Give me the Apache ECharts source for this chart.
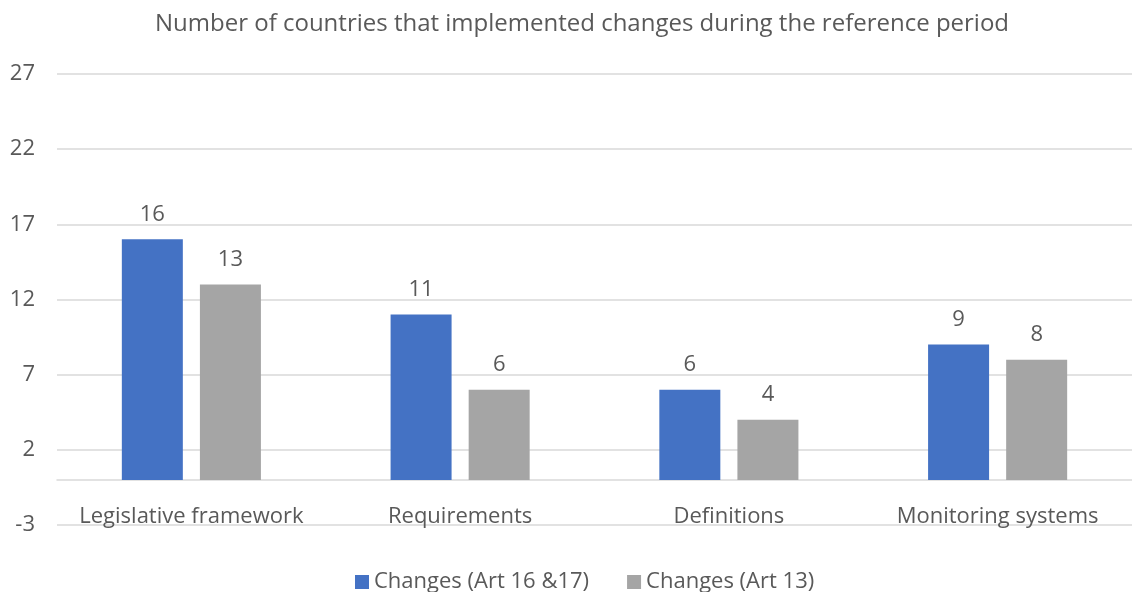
<!DOCTYPE html>
<html>
<head>
<meta charset="utf-8">
<script src="https://cdn.jsdelivr.net/npm/echarts@6/dist/echarts.min.js"></script>
<style>
  html, body { margin: 0; padding: 0; background: #fff; overflow: hidden; }
  #chart { width: 1132px; height: 592px; }
</style>
</head>
<body>
<div id="chart"></div>
<script>
// Chart data
const categories = ['Legislative framework', 'Requirements', 'Definitions', 'Monitoring systems'];
const art1617 = [16, 11, 6, 9];
const art13 = [13, 6, 4, 8];
const seriesNames = ['Changes (Art 16 &17)', 'Changes (Art 13)'];
const titleText = 'Number of countries that implemented changes during the reference period';

const textColor = '#595959';
const fontFamily = '"Open Sans", sans-serif';

const chart = echarts.init(document.getElementById('chart'));
chart.setOption({
  animation: false,
  title: {
    text: titleText,
    left: 150,
    top: 7,
    textStyle: { color: textColor, fontSize: 24, fontWeight: 'normal', fontFamily }
  },
  legend: {
    top: 566,
    left: 350,
    itemWidth: 14,
    itemHeight: 14,
    itemGap: 38,
    icon: 'rect',
    textStyle: { color: textColor, fontSize: 22, fontFamily }
  },
  // plot area runs slightly past the right edge of the canvas
  grid: { left: 57, right: -6, top: 74, bottom: 67, containLabel: false },
  xAxis: {
    type: 'category',
    data: categories,
    axisLine: { onZero: true, lineStyle: { color: '#D9D9D9', width: 1.5 } },
    axisTick: { show: false },
    axisLabel: { color: textColor, fontSize: 22, fontFamily, margin: -19, interval: 0 }
  },
  yAxis: {
    type: 'value',
    min: -3,
    max: 27,
    interval: 5,
    axisLine: { show: false },
    axisTick: { show: false },
    splitLine: { lineStyle: { color: '#D9D9D9', width: 1.5 } },
    axisLabel: { color: textColor, fontSize: 22, fontFamily, margin: 22 }
  },
  series: [
    {
      name: seriesNames[0],
      type: 'bar',
      data: art1617,
      barWidth: 61,
      barGap: '28%',
      itemStyle: { color: '#4472C4' },
      label: { show: true, position: 'top', distance: 14, color: textColor, fontSize: 22, fontFamily }
    },
    {
      name: seriesNames[1],
      type: 'bar',
      data: art13,
      barWidth: 61,
      itemStyle: { color: '#A5A5A5' },
      label: { show: true, position: 'top', distance: 14, color: textColor, fontSize: 22, fontFamily }
    }
  ]
});
</script>
</body>
</html>
